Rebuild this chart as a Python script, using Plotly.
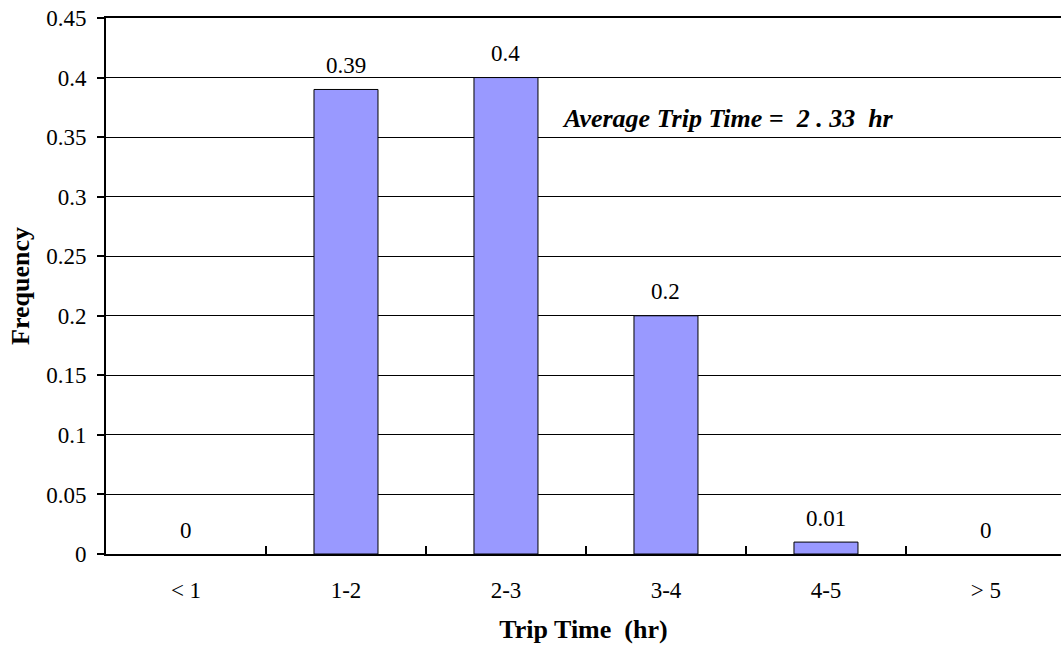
import plotly.graph_objects as go

categories = ["< 1", "1-2", "2-3", "3-4", "4-5", "> 5"]
frequency = [0, 0.39, 0.4, 0.2, 0.01, 0]
value_labels = ["0", "0.39", "0.4", "0.2", "0.01", "0"]
y_ticks = [0, 0.05, 0.1, 0.15, 0.2, 0.25, 0.3, 0.35, 0.4, 0.45]
y_tick_labels = ["0", "0.05", "0.1", "0.15", "0.2", "0.25", "0.3", "0.35", "0.4", "0.45"]
avg_text = "Average Trip Time =  2 . 33  hr"

FONT = "Liberation Serif, Times New Roman, serif"
xs = list(range(len(categories)))

fig = go.Figure()
fig.add_trace(go.Bar(
    x=xs, y=frequency, width=0.4,
    marker=dict(color="#9999FF",
                line=dict(color="black", width=[1 if v > 0 else 0 for v in frequency])),
    hoverinfo="skip", showlegend=False,
))

for x, v, lab in zip(xs, frequency, value_labels):
    fig.add_annotation(x=x, y=v, text=lab, showarrow=False, yshift=24,
                       font=dict(family=FONT, size=23, color="black"))

fig.add_annotation(x=3.39, y=0.366, text="<b><i>" + avg_text + "</i></b>",
                   showarrow=False, font=dict(family=FONT, size=26, color="black"))

fig.update_layout(
    width=1061, height=648,
    margin=dict(l=106, r=0, t=18, b=94),
    paper_bgcolor="white", plot_bgcolor="white",
    font=dict(family=FONT, size=23, color="black"),
)
fig.update_xaxes(
    range=[-0.5, 5.469],
    tickvals=xs, ticktext=categories, ticks="", ticklen=0,
    tickfont=dict(family=FONT, size=23),
    ticklabelstandoff=14,
    showgrid=False, zeroline=False,
    showline=True, mirror=True, linecolor="black", linewidth=2,
    minor=dict(tickvals=[0.5, 1.5, 2.5, 3.5, 4.5], ticks="inside", ticklen=8,
               tickcolor="black", tickwidth=2, showgrid=False),
    title=dict(text="<b>Trip Time  (hr)</b>", font=dict(family=FONT, size=26), standoff=18),
)
fig.update_yaxes(
    range=[0, 0.45],
    tickvals=y_ticks, ticktext=y_tick_labels,
    ticks="outside", ticklen=7, tickcolor="black", tickwidth=2,
    tickfont=dict(family=FONT, size=23),
    ticklabelstandoff=6,
    showgrid=True, gridcolor="black", gridwidth=1,
    zeroline=False,
    showline=True, linecolor="black", linewidth=2,
    title=dict(text="<b>Frequency</b>", font=dict(family=FONT, size=26), standoff=9),
)

fig.write_html("out.html")
